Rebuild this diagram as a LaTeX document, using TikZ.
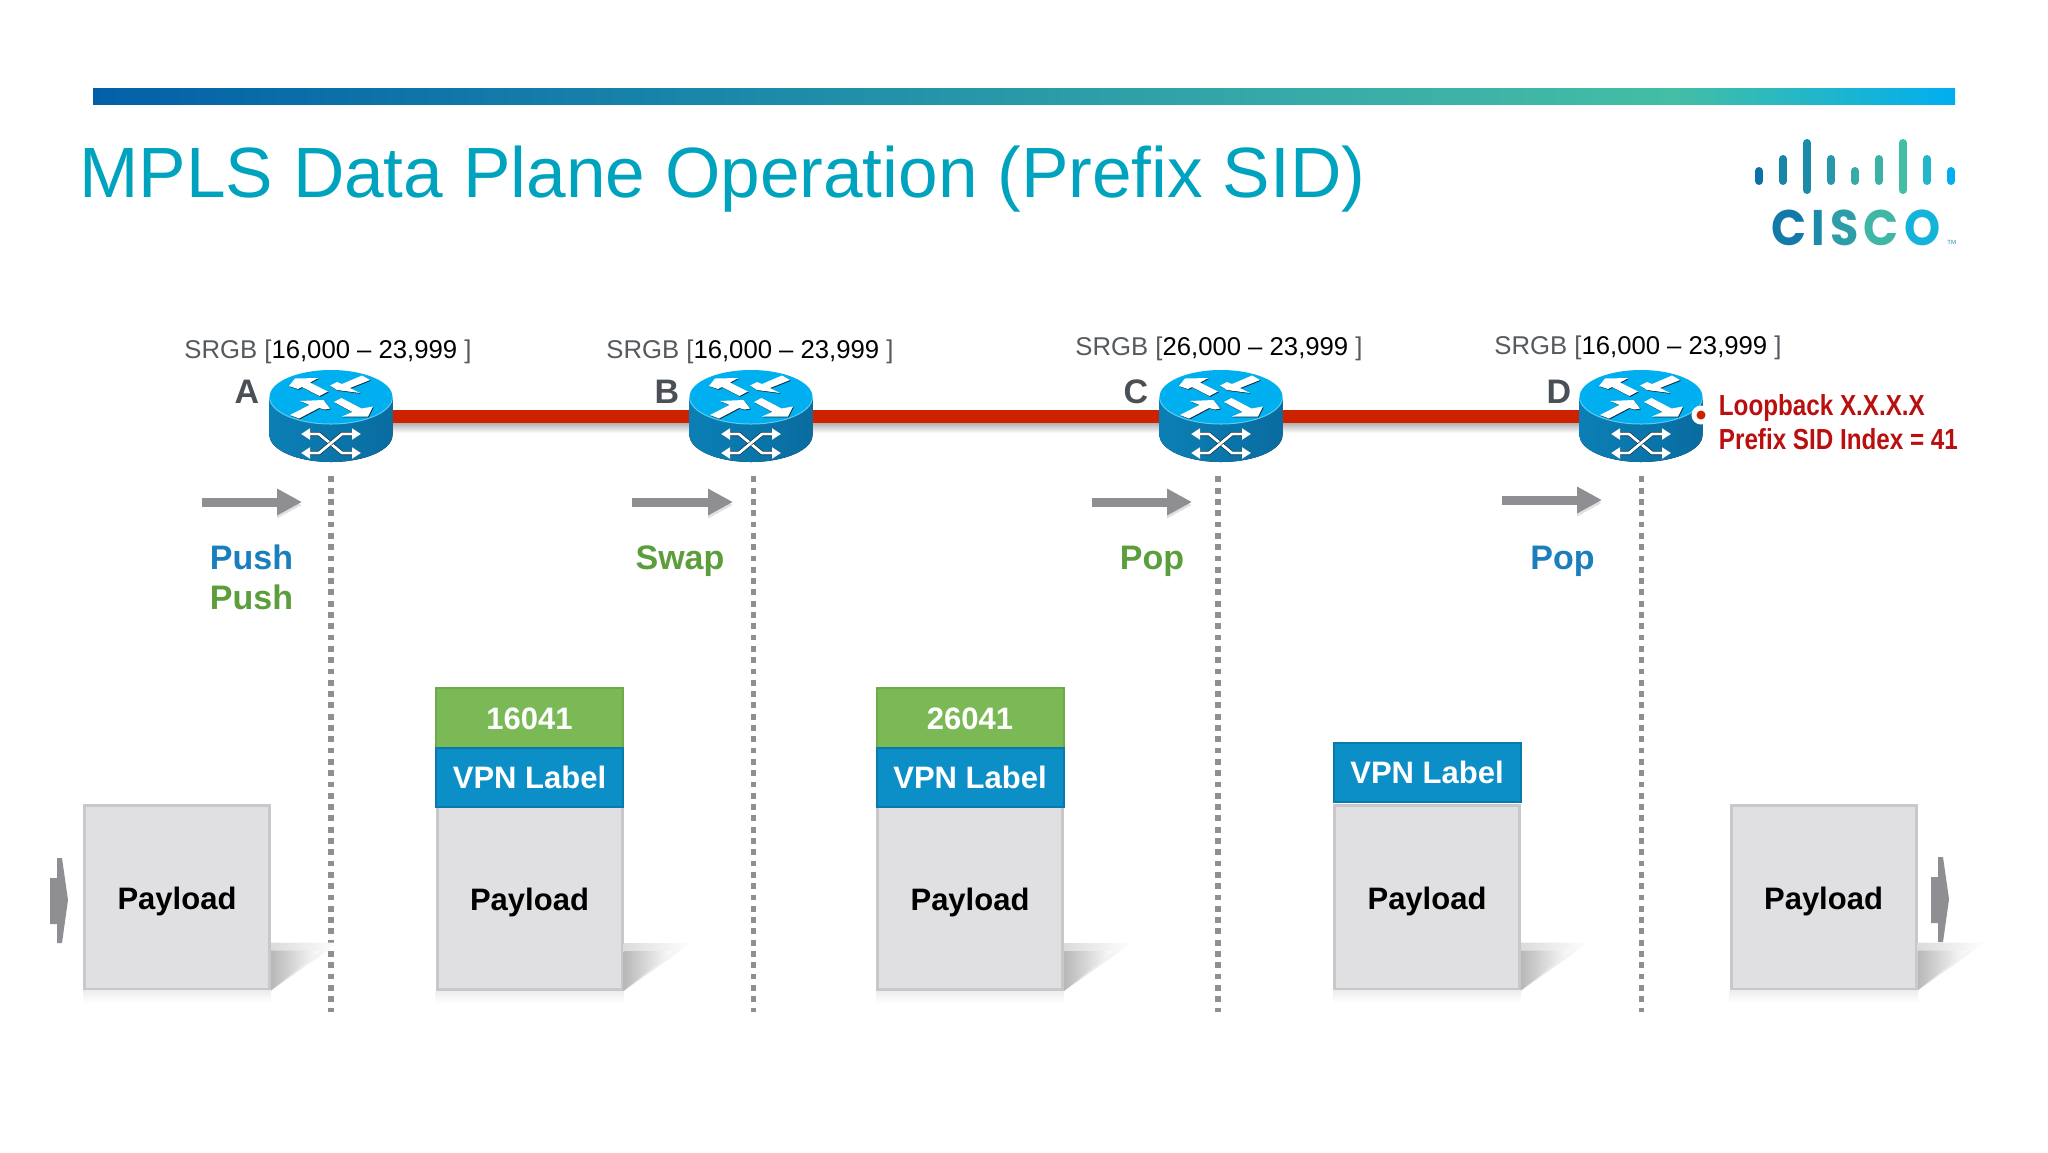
\documentclass[tikz,border=0pt]{standalone}
\usepackage{fontspec}
\setmainfont{Liberation Sans}
\newfontfamily\slimfont{Liberation Sans}[FakeStretch=0.835]
\newfontfamily\logofont{Poppins}[FakeStretch=0.92]
\usetikzlibrary{arrows.meta}

\definecolor{titleteal}{HTML}{00A3BE}
\definecolor{barA}{HTML}{0360A8}
\definecolor{barB}{HTML}{1C8AA9}
\definecolor{barC}{HTML}{38AAA8}
\definecolor{barD}{HTML}{43BEA5}
\definecolor{barE}{HTML}{00AEEF}
\definecolor{rttop}{HTML}{00AFF0}
\definecolor{rtrim}{HTML}{5CCBF2}
\definecolor{rtside}{HTML}{0B7FB5}
\definecolor{rtdark}{HTML}{0A6CA0}
\definecolor{rtline}{HTML}{0A2A40}
\definecolor{linkred}{HTML}{CC2200}
\definecolor{sidred}{HTML}{B90F0F}
\definecolor{opblue}{HTML}{1A7FBC}
\definecolor{opgreen}{HTML}{5C9E3C}
\definecolor{flowgrey}{HTML}{8E8E93}
\definecolor{lettergrey}{HTML}{4A5055}
\definecolor{srgbgrey}{HTML}{555A5E}
\definecolor{pktfill}{HTML}{E0DFE1}
\definecolor{pktedge}{HTML}{C8C8CA}
\definecolor{sidgreen}{HTML}{7AB956}
\definecolor{sidgreenE}{HTML}{6CAB48}
\definecolor{vpnblue}{HTML}{0C8FC6}
\definecolor{vpnblueE}{HTML}{0A7AAC}

\pgfdeclarehorizontalshading{barshade}{100bp}{color(0bp)=(barA); color(25bp)=(barA); color(43bp)=(barB); color(57.5bp)=(barC); color(67.5bp)=(barD); color(75bp)=(barE); color(100bp)=(barE)}

\tikzset{
  router/.style={minimum width=61.5pt,minimum height=46pt,inner sep=0pt},
  link/.style={draw=linkred,line width=6.5pt},
  linkshade/.style={top color=black!30,bottom color=white,draw=none},
  drop/.style={draw=flowgrey,line width=2.8pt,dash pattern=on 2.9pt off 2.75pt,shorten <=7pt},
  flow/.style={draw=flowgrey,line width=4.5pt,-{Triangle[length=12.5pt,width=12.5pt]},
    preaction={draw=black!12,transform canvas={yshift=-1.5pt}}},
  srgb/.style={anchor=base west,inner sep=0pt,font=\fontsize{12.85pt}{15pt}\selectfont,text=srgbgrey},
  letter/.style={anchor=base,inner sep=0pt,text=lettergrey,font=\fontsize{17pt}{20pt}\selectfont\bfseries},
  op/.style={anchor=base,inner sep=0pt,font=\fontsize{17pt}{20pt}\selectfont\bfseries},
  sidtext/.style={anchor=base west,inner sep=0pt,text=sidred,font=\fontsize{14.5pt}{17pt}\slimfont\bfseries},
  pkt/.style={draw=pktedge,fill=pktfill,line width=1.5pt,minimum width=92.5pt,minimum height=92pt,inner sep=0pt,
    font=\fontsize{15.5pt}{18pt}\selectfont\bfseries,text height=16pt,text depth=3.5pt},
  sidlbl/.style={draw=sidgreenE,fill=sidgreen,line width=1pt,minimum width=93.5pt,minimum height=30pt,inner sep=0pt,text=white,
    font=\fontsize{15.5pt}{18pt}\selectfont\bfseries,text height=11.5pt,text depth=0pt},
  vpnlbl/.style={draw=vpnblueE,fill=vpnblue,line width=1pt,minimum width=93.5pt,minimum height=29.5pt,inner sep=0pt,text=white,
    font=\fontsize{15.5pt}{18pt}\selectfont\bfseries},
  logobar/.style={line width=4pt,line cap=round},
  rtarrow/.style={fill=white,draw=none,preaction={fill=rtline,transform canvas={xshift=.4pt,yshift=-.4pt}}},
  rtcross/.style={draw=white,line width=1.4pt,{Triangle[length=4.5pt,width=5.5pt]}-{Triangle[length=4.5pt,width=5.5pt]},
    preaction={draw=rtline,line width=2pt}},
  inarrow/.style={fill=flowgrey,draw=none},
  routericon/.pic={
    \fill[left color=rtside,right color=rtdark] (-61.5,-19) -- (-61.5,19)
      arc[start angle=180,end angle=0,x radius=61.5,y radius=27] -- (61.5,-19) -- cycle;
    \fill[rttop] (0,-19) ellipse [x radius=61.5,y radius=27];
    \draw[rtrim,line width=.5pt] (-61.5,-19) arc[start angle=180,end angle=0,x radius=61.5,y radius=27];
    %% top arrows
    \fill[rtarrow] (-42,-30) -- (-36,-37.5) -- (-12.5,-38) -- (-21,-33.5) -- (-3,-24.5) -- (-11.5,-20) -- (-29,-29) -- (-33,-27) -- cycle;
    \fill[rtarrow] (-1,-30.5) -- (6,-26) -- (29,-23) -- (19,-28) -- (39,-36) -- (31,-40.5) -- (11,-32) -- (6,-34) -- cycle;
    \fill[rtarrow] (-1,-7.5) -- (-7.5,-16) -- (-31,-15) -- (-21.5,-11) -- (-41,-1) -- (-32,2.5) -- (-12,-8) -- (-6,-6.5) -- cycle;
    \fill[rtarrow] (3,-14) -- (10.5,-18) -- (30.5,-7.5) -- (42,-9.5) -- (37,.5) -- (11,.5) -- (21.5,-4) -- cycle;
    %% side arrows
    \draw[rtcross] (-30,18) -- (-12,18) -- (11,37) -- (30,37);
    \draw[rtcross] (-30,37) -- (-12,37) -- (11,18) -- (30,18);
  }
}
\newcommand{\pktshadow}[1]{
  \shade[left color=black!14,right color=white] (#1.south east) -- ++(0,-48) -- ++(68,0) -- cycle;
  \shade[left color=black!28,right color=white] (#1.south east) -- ++(0,-40) -- ++(50,0) -- cycle;
  \shade[top color=black!7,bottom color=white] (#1.south west) rectangle ([yshift=-6pt]#1.south east);
}

\begin{document}
\begin{tikzpicture}[x=.5pt,y=-.5pt]
\useasboundingbox (0,0) rectangle (2048,1152);
%% header
\shade[shading=barshade] (93,88.5) rectangle (1955,104);
\node[anchor=base west,inner sep=0pt,text=titleteal,font=\fontsize{35.6pt}{40pt}\selectfont] (title) at (79,197) {MPLS Data Plane Operation (Prefix SID)};
%% logo
\draw[logobar,draw=barA!60!barB] (1759,171) -- (1759,181);
\draw[logobar,draw=barB!90!barA] (1783,159) -- (1783,181);
\draw[logobar,draw=barB] (1807,143) -- (1807,190);
\draw[logobar,draw=barB!60!barC] (1831,159) -- (1831,181);
\draw[logobar,draw=barC] (1855,171) -- (1855,181);
\draw[logobar,draw=barC!60!barD] (1879,159) -- (1879,181);
\draw[logobar,draw=barD] (1903,143) -- (1903,190);
\draw[logobar,draw=barD!50!barE] (1927,159) -- (1927,181);
\draw[logobar,draw=barE] (1951,171) -- (1951,181);
\node[anchor=base west,inner sep=0pt,font=\fontsize{25pt}{30pt}\logofont\bfseries] (ciscoword) at (1771,245)
  {\textcolor{barA!40!barB}{C}\kern2.6pt\textcolor{barB}{I}\kern2.6pt\textcolor{barB!40!barC}{S}\kern2.6pt\textcolor{barC!40!barD}{C}\kern2.6pt\textcolor{barD!30!barE}{O}};
\node[anchor=base west,inner sep=0pt,text=barB,font=\fontsize{3pt}{4pt}\selectfont] (tm) at (1947,244) {TM};

%% nodes
\node[router] (A) at (331,416) {};
\node[router] (B) at (751,416) {};
\node[router] (C) at (1221,416) {};
\node[router] (D) at (1641,416) {};
\coordinate (Adrop) at (331,1012);
\coordinate (Bdrop) at (753.5,1012);
\coordinate (Cdrop) at (1218,1012);
\coordinate (Ddrop) at (1641.5,1012);

%%% edges
\shade[linkshade] (A.east |- 0,423) rectangle (B.west |- 0,433);
\shade[linkshade] (B.east |- 0,423) rectangle (C.west |- 0,433);
\shade[linkshade] (C.east |- 0,423) rectangle (D.west |- 0,433);
\draw[link] (A) -- (B);
\draw[link] (B) -- (C);
\draw[link] (C) -- (D);
\draw[drop] (Adrop |- A.south) -- (Adrop);
\draw[drop] (Bdrop |- B.south) -- (Bdrop);
\draw[drop] (Cdrop |- C.south) -- (Cdrop);
\draw[drop] (Ddrop |- D.south) -- (Ddrop);

%% routers
\pic at (A) {routericon};
\pic at (B) {routericon};
\pic at (C) {routericon};
\pic at (D) {routericon};

%% router labels
\node[srgb] (Asrgb) at (184,358) {SRGB [\textcolor{black}{16,000 – 23,999} ]};
\node[srgb] (Bsrgb) at (606,358) {SRGB [\textcolor{black}{16,000 – 23,999} ]};
\node[srgb] (Csrgb) at (1075,355) {SRGB [\textcolor{black}{26,000 – 23,999} ]};
\node[srgb] (Dsrgb) at (1494,354) {SRGB [\textcolor{black}{16,000 – 23,999} ]};
\node[letter] (Aname) at (247,403) {A};
\node[letter] (Bname) at (667,403) {B};
\node[letter] (Cname) at (1136,403) {C};
\node[letter] (Dname) at (1559,403) {D};

%% loopback
\fill[white] (1701,415) circle [radius=9.5];
\fill[linkred] (1701,415) circle [radius=4.5];
\node[sidtext] (loop) at (1718.5,415) {Loopback X.X.X.X};
\node[sidtext] (sid) at (1718.5,449) {Prefix SID Index = 41};

%% direction arrows
\coordinate (Afrom) at (202,502);
\coordinate (Ato) at (302,502);
\coordinate (Bfrom) at (632,502);
\coordinate (Bto) at (733,502);
\coordinate (Cfrom) at (1092,502);
\coordinate (Cto) at (1192,502);
\coordinate (Dfrom) at (1502,500);
\coordinate (Dto) at (1602,500);
\draw[flow] (Afrom) -- (Ato);
\draw[flow] (Bfrom) -- (Bto);
\draw[flow] (Cfrom) -- (Cto);
\draw[flow] (Dfrom) -- (Dto);

%% operations
\node[op,text=opblue] (Aop1) at (251.5,569) {Push};
\node[op,text=opgreen] (Aop2) at (251.5,609) {Push};
\node[op,text=opgreen] (Bop) at (680,569) {Swap};
\node[op,text=opgreen] (Cop) at (1152,569) {Pop};
\node[op,text=opblue] (Dop) at (1562.5,569) {Pop};

%% packets
\node[pkt] (Pay1) at (177,897) {Payload};
\node[pkt] (Pay2) at (529.5,897.5) {Payload};
\node[pkt] (Pay3) at (970,897.5) {Payload};
\node[pkt] (Pay4) at (1427,897) {Payload};
\node[pkt] (Pay5) at (1823.5,897) {Payload};
\pktshadow{Pay1}
\pktshadow{Pay2}
\pktshadow{Pay3}
\pktshadow{Pay4}
\pktshadow{Pay5}
\node[sidlbl] (Sid2) at (529.5,718) {16041};
\node[vpnlbl] (Vpn2) at (529.5,777.5) {VPN Label};
\node[sidlbl] (Sid3) at (970,718) {26041};
\node[vpnlbl] (Vpn3) at (970,777.5) {VPN Label};
\node[vpnlbl] (Vpn4) at (1427,772.5) {VPN Label};

%% packet in and out
\fill[inarrow] (50,878) -- (57,878) -- (57,858) -- (62,858) -- (68,900) -- (62,943) -- (57,943) -- (57,924) -- (50,924) -- cycle;
\fill[inarrow] (1931,877) -- (1938,877) -- (1938,857) -- (1943,857) -- (1949,899) -- (1943,942) -- (1938,942) -- (1938,923) -- (1931,923) -- cycle;
\end{tikzpicture}
\end{document}
